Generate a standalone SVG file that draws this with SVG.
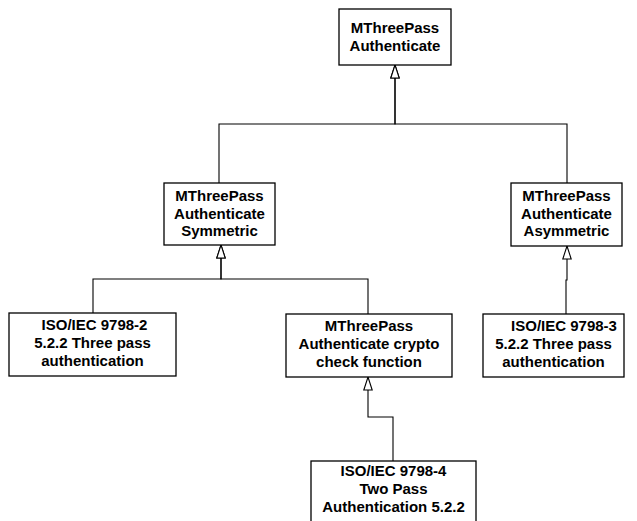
<svg xmlns="http://www.w3.org/2000/svg" width="637" height="521" viewBox="0 0 637 521">
  <style>
    .box { fill: #ffffff; stroke: #000000; stroke-width: 1.3; }
    .lbl { font-family: "Liberation Sans", Arial, sans-serif; font-size: 15px; font-weight: bold; fill: #000000; text-anchor: middle; }
    .edge { fill: none; stroke: #000000; stroke-width: 1.1; marker-end: url(#gen); }
  </style>
  <defs>
    <!-- hollow generalization triangle -->
    <marker id="gen" viewBox="0 0 15 10" refX="14" refY="5" markerWidth="15" markerHeight="10" markerUnits="userSpaceOnUse" orient="auto">
      <path d="M1,0.8 L14,5 L1,9.2 Z" fill="#ffffff" stroke="#000000" stroke-width="1.1"/>
    </marker>
  </defs>
  <rect width="637" height="521" fill="#ffffff"/>

  <g id="connectors">
    <path class="edge" d="M219,183 V124 H395 V65"/>
    <path class="edge" d="M567,183 V124 H395 V65"/>
    <path class="edge" d="M93,313 V279 H221 V245"/>
    <path class="edge" d="M368,314 V279 H221 V245"/>
    <path class="edge" d="M566,314 V280 H567 V246"/>
    <path class="edge" d="M393,461 V417 H368 V377"/>
  </g>

  <g id="mthreepass-authenticate">
    <rect class="box" x="339" y="9" width="112" height="56"/>
    <text class="lbl" x="395" y="33">MThreePass</text>
    <text class="lbl" x="395" y="51">Authenticate</text>
  </g>

  <g id="symmetric">
    <rect class="box" x="164" y="183" width="111" height="62"/>
    <text class="lbl" x="219.5" y="201">MThreePass</text>
    <text class="lbl" x="219.5" y="218.5">Authenticate</text>
    <text class="lbl" x="219.5" y="236">Symmetric</text>
  </g>

  <g id="asymmetric">
    <rect class="box" x="511" y="183" width="111" height="63"/>
    <text class="lbl" x="566.5" y="201">MThreePass</text>
    <text class="lbl" x="566.5" y="218.5">Authenticate</text>
    <text class="lbl" x="566.5" y="236">Asymmetric</text>
  </g>

  <g id="iso-9798-2">
    <rect class="box" x="9" y="313" width="167" height="63"/>
    <text class="lbl" x="94.5" y="330">ISO/IEC 9798-2</text>
    <text class="lbl" x="92.5" y="348">5.2.2 Three pass</text>
    <text class="lbl" x="92.5" y="366">authentication</text>
  </g>

  <g id="crypto-check">
    <rect class="box" x="286" y="314" width="166" height="63"/>
    <text class="lbl" x="369" y="331">MThreePass</text>
    <text class="lbl" x="369" y="349">Authenticate crypto</text>
    <text class="lbl" x="369" y="367">check function</text>
  </g>

  <g id="iso-9798-3">
    <rect class="box" x="483" y="314" width="141" height="63"/>
    <text class="lbl" x="564" y="331">ISO/IEC 9798-3</text>
    <text class="lbl" x="553.5" y="349">5.2.2 Three pass</text>
    <text class="lbl" x="553.5" y="367">authentication</text>
  </g>

  <g id="iso-9798-4">
    <rect class="box" x="311" y="461" width="165" height="70"/>
    <text class="lbl" x="393.5" y="476">ISO/IEC 9798-4</text>
    <text class="lbl" x="393.5" y="494">Two Pass</text>
    <text class="lbl" x="393.5" y="512">Authentication 5.2.2</text>
  </g>
</svg>
